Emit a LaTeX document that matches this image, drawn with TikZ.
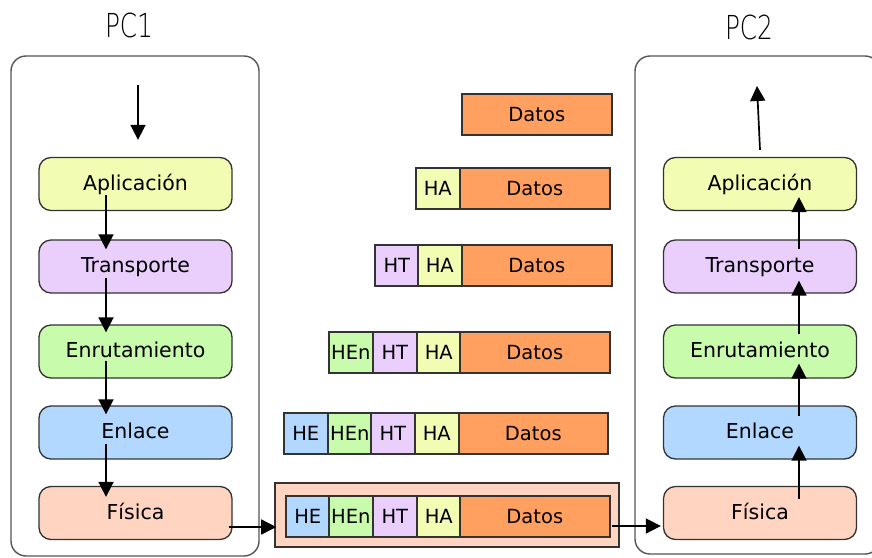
\documentclass[tikz,border=0pt]{standalone}
\usepackage{fontspec}
\setmainfont{DejaVu Sans}
\newfontfamily\finafont{DejaVu Sans ExtraLight}
\usetikzlibrary{arrows.meta}
\definecolor{capapl}{RGB}{242,252,178}
\definecolor{captra}{RGB}{234,206,252}
\definecolor{capenr}{RGB}{200,252,172}
\definecolor{capenl}{RGB}{178,216,255}
\definecolor{capfis}{RGB}{255,212,192}
\definecolor{datcol}{RGB}{255,160,96}
\definecolor{borde}{RGB}{51,51,51}
\definecolor{marco}{RGB}{85,85,85}
\begin{document}
\begin{tikzpicture}[x=1pt,y=-1pt,
  host/.style={draw=marco, line width=1.4pt, rounded corners=15pt, inner sep=0pt},
  capa/.style={draw=borde, line width=1.3pt, rounded corners=12pt,
    minimum width=193pt, minimum height=53pt, inner sep=0pt,
    text height=15pt, text depth=2.5pt, font=\fontsize{20.5}{24}\selectfont},
  celda/.style={draw=borde, line width=1.6pt, anchor=north west, inner sep=0pt,
    minimum height=41pt, text height=14pt, text depth=0pt,
    font=\fontsize{19.5}{23}\selectfont},
  cab/.style={celda, minimum width=44pt},
  dat/.style={celda, minimum width=150pt, fill=datcol},
  flecha/.style={line width=1.7pt, -{Triangle[length=15pt,width=15pt]}},
  titulo/.style={font=\finafont\fontsize{33}{40}\selectfont, inner sep=0pt}
]
\clip (0,0) rectangle (872,557);
\fill[white] (0,0) rectangle (872,557);

% hosts
\node[host, minimum width=248pt, minimum height=500pt] (pc1) at (135,306) {};
\node[host, minimum width=245pt, minimum height=498pt] (pc2) at (757.5,305) {};
\node[titulo] (lab1) at (129,25) {\scalebox{0.75}[1]{PC1}};
\node[titulo] (lab2) at (749,27) {\scalebox{0.75}[1]{PC2}};

% layers of PC1
\node[capa, fill=capapl] (ap1) at (135.5,184)   {Aplicación};
\node[capa, fill=captra] (tr1) at (135.5,266.5) {Transporte};
\node[capa, fill=capenr] (en1) at (135.5,351.5) {Enrutamiento};
\node[capa, fill=capenl] (el1) at (135.5,432.5) {Enlace};
\node[capa, fill=capfis] (fi1) at (135.5,513)   {Física};

% layers of PC2
\node[capa, fill=capapl] (ap2) at (760,184)   {Aplicación};
\node[capa, fill=captra] (tr2) at (760,266.5) {Transporte};
\node[capa, fill=capenr] (en2) at (760,351.5) {Enrutamiento};
\node[capa, fill=capenl] (el2) at (760,432.5) {Enlace};
\node[capa, fill=capfis] (fi2) at (760,513)   {Física};

% encapsulation steps
\node[dat] (d1) at (461,93) {Datos};

\node[cab, fill=capapl] (a2) at (415,167) {HA};
\node[dat] (d2) at (459,167) {Datos};

\node[cab, fill=captra] (t3) at (374,244) {HT};
\node[cab, fill=capapl] (a3) at (417,244) {HA};
\node[dat] (d3) at (461,244) {Datos};

\node[cab, fill=capenr] (r4) at (328,331) {HEn};
\node[cab, fill=captra] (t4) at (372,331) {HT};
\node[cab, fill=capapl] (a4) at (416,331) {HA};
\node[dat] (d4) at (459,331) {Datos};

\node[cab, fill=capenl] (e5) at (283,412) {HE};
\node[cab, fill=capenr] (r5) at (327,412) {HEn};
\node[cab, fill=captra] (t5) at (370,412) {HT};
\node[cab, fill=capapl] (a5) at (414,412) {HA};
\node[dat, minimum width=149pt] (d5) at (458,412) {Datos};

% frame on the wire
\node[draw=borde, line width=1.6pt, fill=capfis, minimum width=344pt,
      minimum height=64pt, inner sep=0pt] (trama) at (447,515) {};
\node[cab, fill=capenl] (e6) at (285,495) {HE};
\node[cab, fill=capenr] (r6) at (328,495) {HEn};
\node[cab, fill=captra] (t6) at (372,495) {HT};
\node[cab, fill=capapl] (a6) at (416,495) {HA};
\node[dat] (d6) at (459,495) {Datos};

% downward path in PC1
\coordinate (ent) at (138,85);
\draw[flecha] (ent) -- ([xshift=2.5pt,yshift=17pt]ap1.north);
\draw[flecha] ([xshift=-29.5pt,yshift=16pt]ap1.south) -- ([xshift=-29.5pt,yshift=-10pt]tr1.north);
\draw[flecha] ([xshift=-29.5pt,yshift=16pt]tr1.south) -- ([xshift=-29.5pt,yshift=-8pt]en1.north);
\draw[flecha] ([xshift=-29.5pt,yshift=18pt]en1.south) -- ([xshift=-29.5pt,yshift=-9pt]el1.north);
\draw[flecha] ([xshift=-29.5pt,yshift=16pt]el1.south) -- ([xshift=-29.5pt,yshift=-11pt]fi1.north);

% across the medium
\coordinate (s1) at ([xshift=-4pt,yshift=-14pt]fi1.east);
\draw[flecha] (s1) -- ([xshift=2pt]s1 -| trama.west);
\coordinate (s2) at ([xshift=-8pt,yshift=-11pt]trama.east);
\coordinate (t2) at (s2 -| fi2.west);
\draw[flecha] (s2) -- ([xshift=-2pt]t2);

% upward path in PC2
\draw[flecha] ([xshift=39pt,yshift=-13pt]fi2.north) -- ([xshift=39pt,yshift=14pt]el2.south);
\draw[flecha] ([xshift=39pt,yshift=-11pt]el2.north) -- ([xshift=39pt,yshift=15pt]en2.south);
\draw[flecha] ([xshift=39pt,yshift=-10pt]en2.north) -- ([xshift=39pt,yshift=13pt]tr2.south);
\draw[flecha] ([xshift=39pt,yshift=-10pt]tr2.north) -- ([xshift=39pt,yshift=14pt]ap2.south);
\coordinate (sal) at (757,86);
\draw[flecha] ([yshift=7pt]ap2.north) -- (sal);
\end{tikzpicture}
\end{document}
